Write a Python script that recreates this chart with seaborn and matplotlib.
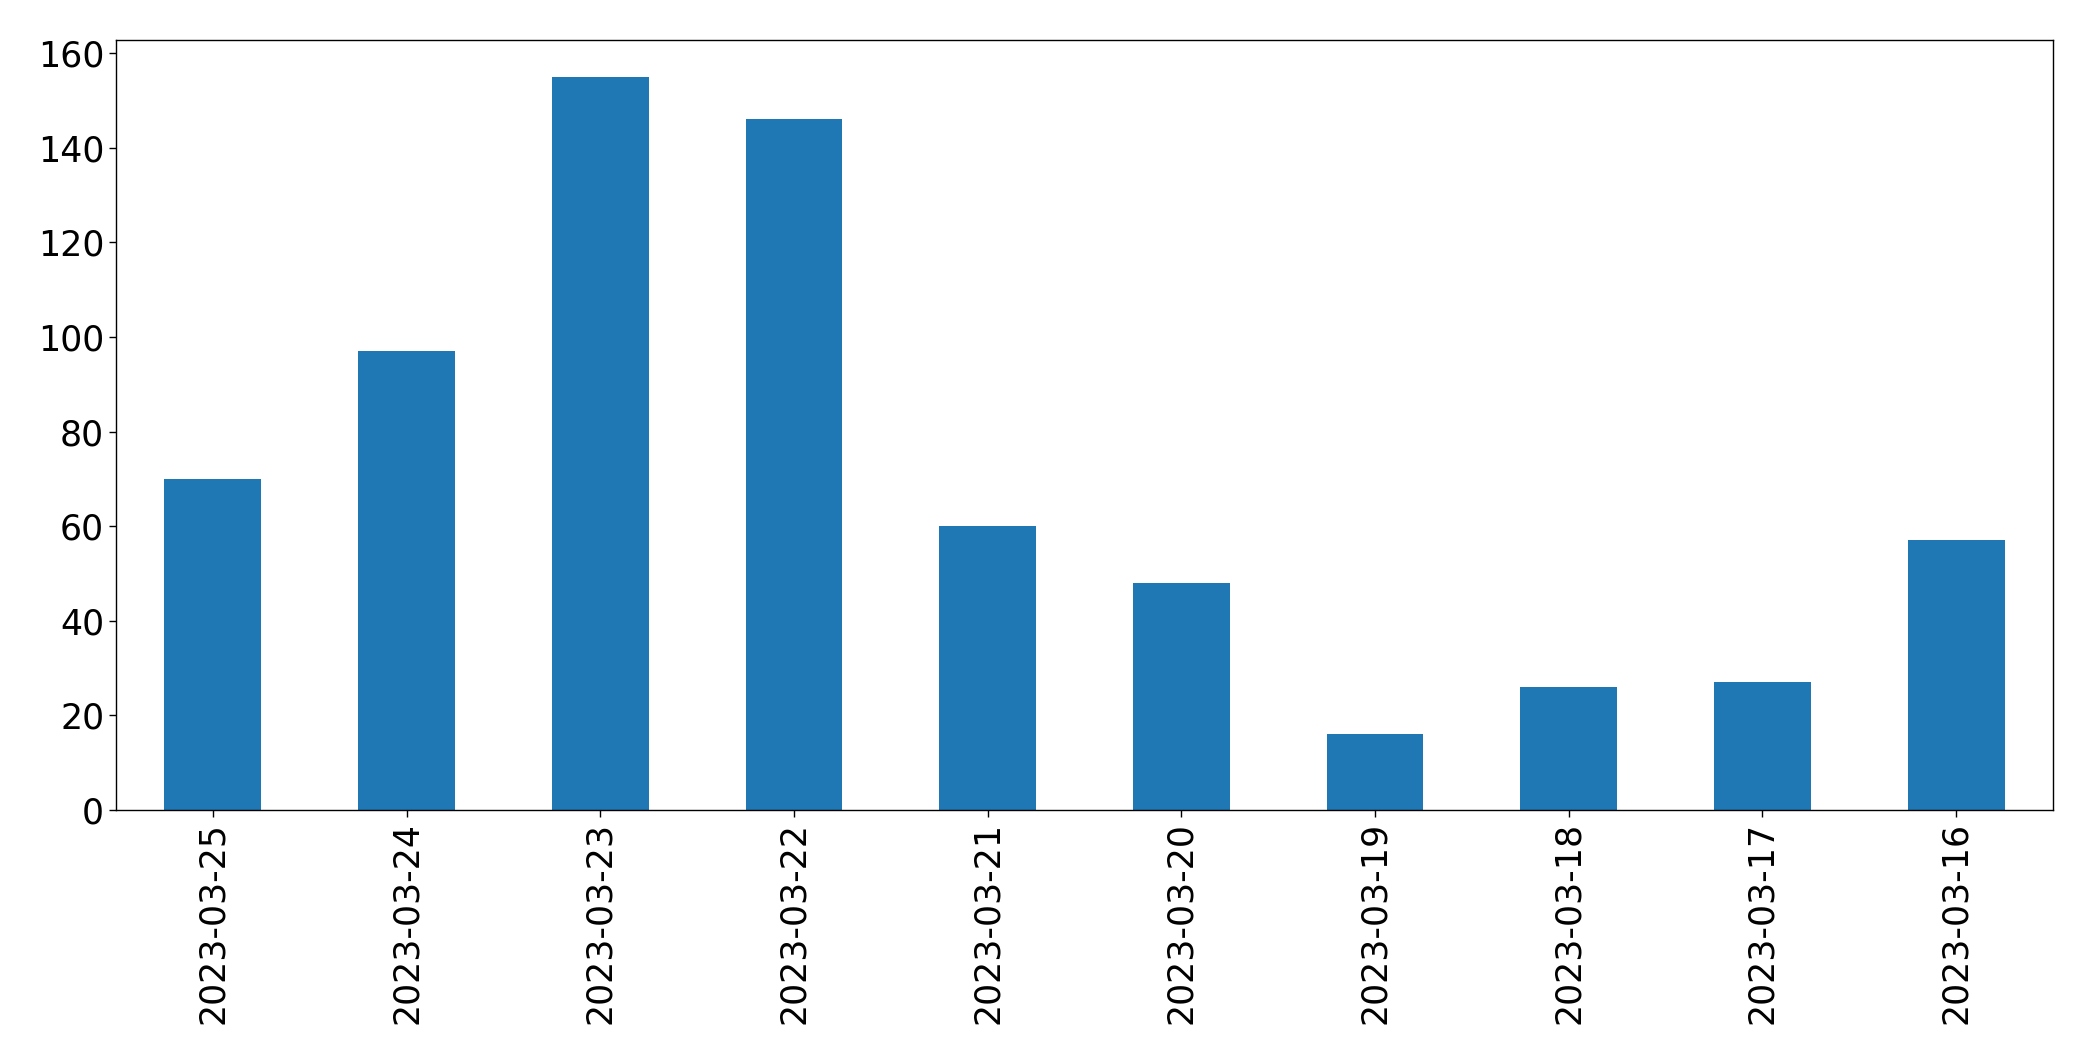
import matplotlib
matplotlib.use("Agg")
import matplotlib.pyplot as plt
import seaborn as sns
import pandas as pd

dates = ["2023-03-25", "2023-03-24", "2023-03-23", "2023-03-22", "2023-03-21",
         "2023-03-20", "2023-03-19", "2023-03-18", "2023-03-17", "2023-03-16"]
counts = [70, 97, 155, 146, 60, 48, 16, 26, 27, 57]

df = pd.DataFrame({"date": dates, "count": counts})

sns.set_style("white")
plt.rcParams["font.family"] = ["DejaVu Sans"]
plt.rcParams["text.color"] = "black"
plt.rcParams["xtick.color"] = "black"
plt.rcParams["ytick.color"] = "black"
plt.rcParams["axes.edgecolor"] = "black"

fig = plt.figure(figsize=(20.93, 10.62), dpi=100)
ax = fig.add_axes([116 / 2093, 1 - 810 / 1062, (2053 - 116) / 2093, (810 - 40) / 1062])
sns.barplot(data=df, x="date", y="count", color="#1f77b4", saturation=1, width=0.5,
            linewidth=0, ax=ax)
ax.set_xlabel("")
ax.set_ylabel("")
ax.set_xlim(-0.5, len(dates) - 0.5)
ax.set_ylim(0, 162.75)
ax.tick_params(axis="both", labelsize=25, length=5, width=1, direction="out",
               bottom=True, left=True, colors="black")
plt.setp(ax.get_xticklabels(), rotation=90)
for s in ax.spines.values():
    s.set_color("black")
    s.set_linewidth(1)
fig.savefig("out.png", dpi=100)
